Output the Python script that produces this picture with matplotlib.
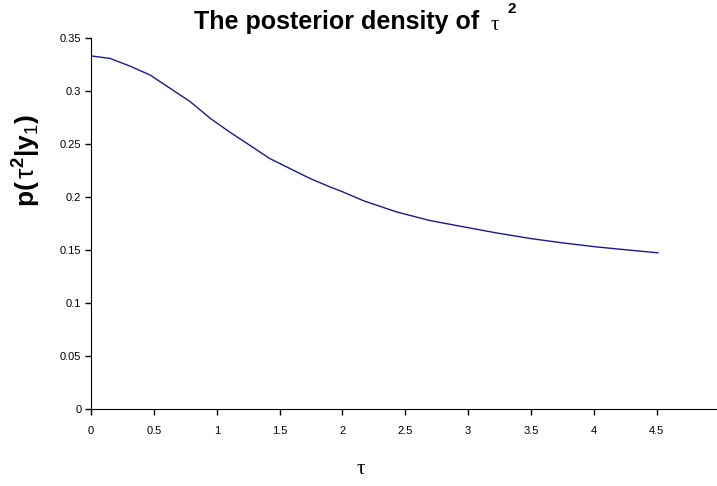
import numpy as np
import matplotlib.pyplot as plt

plt.rcParams['font.family'] = ['Liberation Sans', 'DejaVu Sans']
plt.rcParams['mathtext.fontset'] = 'custom'
plt.rcParams['mathtext.rm'] = 'Liberation Sans'
plt.rcParams['mathtext.bf'] = 'Liberation Sans:bold'
plt.rcParams['mathtext.it'] = 'Liberation Sans:italic'

# posterior density
tau = [0.0, 0.15, 0.31, 0.47, 0.63, 0.79, 0.95, 1.10, 1.26, 1.42, 1.58, 1.74,
       1.90, 2.0, 2.17, 2.43, 2.69, 2.96, 3.22, 3.49, 3.75, 4.02, 4.28, 4.51]
dens = [0.333, 0.3307, 0.3234, 0.315, 0.3024, 0.2898, 0.274, 0.2615, 0.249, 0.2364,
        0.227, 0.2176, 0.2096, 0.205, 0.1964, 0.186, 0.178, 0.172, 0.1663, 0.161,
        0.1568, 0.153, 0.150, 0.1474]

xticks = [0, 0.5, 1, 1.5, 2, 2.5, 3, 3.5, 4, 4.5]
xticklabels = ['0', '0.5', '1', '1.5', '2', '2.5', '3', '3.5', '4', '4.5']
yticks = [0, 0.05, 0.1, 0.15, 0.2, 0.25, 0.3, 0.35]
yticklabels = ['0', '0.05', '0.1', '0.15', '0.2', '0.25', '0.3', '0.35']

fig = plt.figure(figsize=(7.17, 4.86), dpi=100)
ax = fig.add_axes([0.127, 0.158, 0.873, 0.764])

ax.plot(tau, dens, color='#1a1a8c', lw=1.0)

ax.set_xlim(0, 4.98)
ax.set_ylim(0, 0.35)
ax.set_xticks(xticks)
ax.set_xticklabels(xticklabels, fontsize=8)
ax.set_yticks(yticks)
ax.set_yticklabels(yticklabels, fontsize=8)
ax.tick_params(direction='out', length=4, width=1, pad=3)
ax.tick_params(axis='x', pad=8)
ax.spines['top'].set_visible(False)
ax.spines['right'].set_visible(False)

# title with tau and superscript
fig.text(0.469, 0.955, 'The posterior density of', fontsize=18, fontweight='bold',
         ha='center', va='center')
fig.text(0.684, 0.948, 'τ', fontsize=15, family='Liberation Serif', ha='left', va='center')
fig.text(0.708, 0.982, '2', fontsize=11, fontweight='bold', ha='left', va='center')

# y label
fig.text(0.037, 0.67, r'$\mathbf{p(}\,\mathrm{τ}^{\mathbf{2}}\mathbf{|y}_{1}\mathbf{)}$',
         fontsize=19, rotation=90, ha='center', va='center')

fig.text(0.503, 0.033, 'τ', fontsize=15, family='Liberation Serif', ha='center', va='center')

fig.savefig('out.png', dpi=100)
